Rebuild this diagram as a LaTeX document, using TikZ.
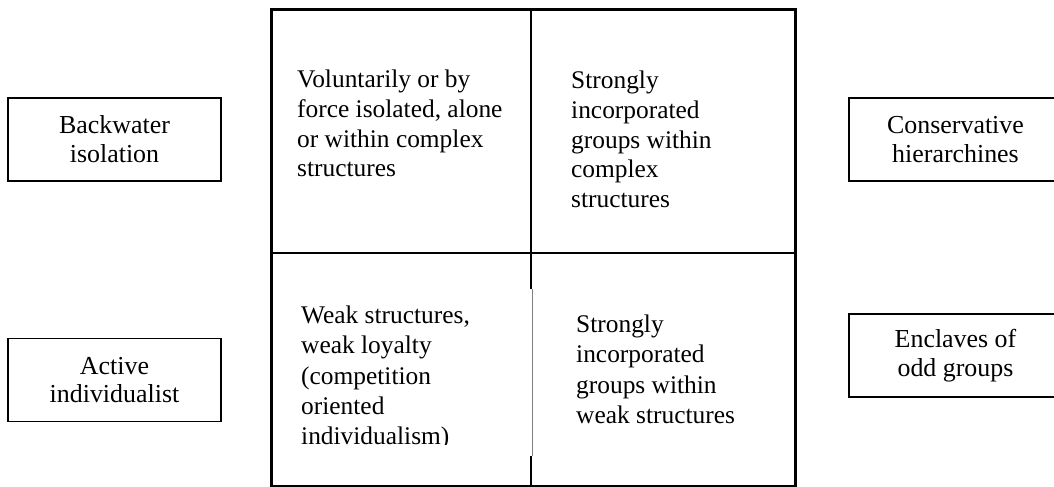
\documentclass[tikz,border=0pt]{standalone}
\usepackage{fontspec}
\setmainfont{Liberation Serif}
\begin{document}
\begin{tikzpicture}[x=1bp,y=-1bp,
  sidebox/.style={draw, line width=1.6bp, minimum width=213bp, minimum height=83bp,
    align=center, inner sep=0pt, font=\fontsize{26}{29}\selectfont},
  celltext/.style={anchor=north west, align=left, inner sep=0pt,
    font=\fontsize{25.5}{30}\selectfont},
  frame/.style={line width=3bp},
  divider/.style={line width=1.6bp},
  boxedge/.style={line width=0.6bp, draw=gray}]
\useasboundingbox (0,0) rectangle (1054,487);

% grid corners
\coordinate (tl) at (271,10);
\coordinate (br) at (795,486);
\coordinate (ml) at (271,253);
\coordinate (mr) at (795,253);
\coordinate (mt) at (531,10);
\coordinate (m1) at (531,289);
\coordinate (m2) at (531,456);
\coordinate (mb) at (531,486);
\coordinate (g1) at (532.5,289);
\coordinate (g2) at (532.5,456);

\draw[divider] (ml) -- (mr);
\draw[divider] (mt) -- (m1);
\draw[divider] (m2) -- (mb);
\draw[boxedge] (g1) -- (g2);
\draw[frame] (tl) rectangle (br);

% cell texts
\node[celltext] (c1) at (297,69.5) {Voluntarily or by\\force isolated, alone\\or within complex\\structures};
\node[celltext] (c2) at (571,70.5) {Strongly\\incorporated\\groups within\\complex\\structures};
\begin{scope}
\clip (280,258) rectangle (528,444);
\node[celltext, font=\fontsize{25.5}{30.5}\selectfont] (c3) at (301,305.5) {Weak structures,\\weak loyalty\\(competition\\oriented\\individualism)};
\end{scope}
\node[celltext, font=\fontsize{25.5}{30.5}\selectfont] (c4) at (576,314.5) {Strongly\\incorporated\\groups within\\weak structures};

% side boxes
\node[sidebox] (bw) at (114.5,139.5) {Backwater\\isolation};
\node[sidebox] (ai) at (114.5,380) {Active\\individualist};
\node[sidebox] (ch) at (955.5,139.5) {Conservative\\hierarchines};
\node[sidebox] (eo) at (955.5,355.5) {Enclaves of\\odd groups};
\end{tikzpicture}
\end{document}
